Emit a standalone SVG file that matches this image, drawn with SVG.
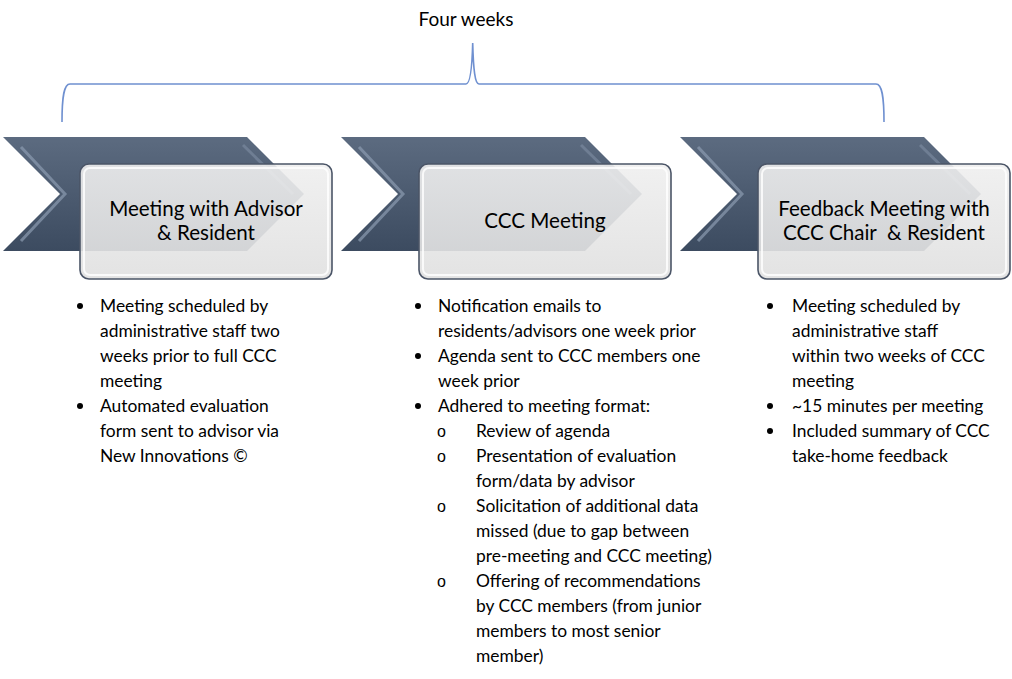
<svg xmlns="http://www.w3.org/2000/svg" width="1012" height="679" viewBox="0 0 1012 679">
<defs>
<linearGradient id="chev" x1="0" y1="0" x2="0" y2="1">
<stop offset="0" stop-color="#5c6b80"/>
<stop offset="1" stop-color="#3c4b60"/>
</linearGradient>
<linearGradient id="boxg" x1="0" y1="0" x2="0" y2="1">
<stop offset="0" stop-color="#efefef"/>
<stop offset="1" stop-color="#e0e0e0"/>
</linearGradient>
<g id="chevron">
<polygon points="0,0 244,0 301,57 244,114 0,114 57,57" fill="url(#chev)"/>
<polyline points="18,10 62,57 18,104" fill="none" stroke="#8c9bb0" stroke-width="3" stroke-opacity="0.7"/>
<polyline points="240,8 290,57" fill="none" stroke="#7f8ea3" stroke-width="3" stroke-opacity="0.6"/>
</g>
<g id="box">
<rect x="0" y="0" width="252" height="115" rx="9" fill="url(#boxg)" fill-opacity="0.9" stroke="#4b5567" stroke-width="1.6"/>
<rect x="4" y="4" width="244" height="107" rx="6" fill="none" stroke="#ffffff" stroke-width="2" stroke-opacity="0.8"/>
</g>
</defs>
<style>
.t{font-family:Lato,"Liberation Sans",sans-serif;font-size:17.4px;fill:#000}
.h{font-family:Lato,"Liberation Sans",sans-serif;font-size:20.6px;fill:#000;text-anchor:middle}
.top{font-family:Lato,"Liberation Sans",sans-serif;font-size:19px;fill:#000;text-anchor:middle}
.sub{font-family:"Liberation Sans",sans-serif;font-size:16px;fill:#000}
.brace{fill:none;stroke:#6f90d0;stroke-width:1.6}
</style>
<rect width="1012" height="679" fill="#ffffff"/>

<text class="top" x="466" y="26">Four weeks</text>

<g id="connectors">
<path class="brace" d="M62,122 C62,96 64,84 70,84 L466,84 C470,84 472,70 472.7,43 C473.4,70 475,84 479,84 L876,84 C882,84 884,96 884,122"/>
</g>

<g id="step1">
<use href="#chevron" x="3" y="137"/>
<use href="#box" x="80" y="164"/>
<text class="h" x="206" y="216">Meeting with Advisor</text>
<text class="h" x="206" y="240">&amp; Resident</text>
</g>

<g id="step2">
<use href="#chevron" x="341" y="137"/>
<use href="#box" x="419" y="164"/>
<text class="h" x="545" y="228">CCC Meeting</text>
</g>

<g id="step3">
<use href="#chevron" x="680" y="137"/>
<use href="#box" x="758" y="164"/>
<text class="h" x="884" y="216">Feedback Meeting with</text>
<text class="h" x="884" y="240" xml:space="preserve">CCC Chair  &amp; Resident</text>
</g>

<g id="notes1">
<circle cx="80" cy="306" r="3"/>
<circle cx="80" cy="406" r="3"/>
<text class="t" x="100" y="312">Meeting scheduled by</text>
<text class="t" x="100" y="337">administrative staff two</text>
<text class="t" x="100" y="362">weeks prior to full CCC</text>
<text class="t" x="100" y="387">meeting</text>
<text class="t" x="100" y="412">Automated evaluation</text>
<text class="t" x="100" y="437">form sent to advisor via</text>
<text class="t" x="100" y="462">New Innovations ©</text>
</g>

<g id="notes2">
<circle cx="418" cy="306" r="3"/>
<circle cx="418" cy="356" r="3"/>
<circle cx="418" cy="406" r="3"/>
<text class="t" x="438" y="312">Notification emails to</text>
<text class="t" x="438" y="337">residents/advisors one week prior</text>
<text class="t" x="438" y="362">Agenda sent to CCC members one</text>
<text class="t" x="438" y="387">week prior</text>
<text class="t" x="438" y="412">Adhered to meeting format:</text>
<text class="sub" x="437" y="437">o</text>
<text class="sub" x="437" y="462">o</text>
<text class="sub" x="437" y="512">o</text>
<text class="sub" x="437" y="587">o</text>
<text class="t" x="476" y="437">Review of agenda</text>
<text class="t" x="476" y="462">Presentation of evaluation</text>
<text class="t" x="476" y="487">form/data by advisor</text>
<text class="t" x="476" y="512">Solicitation of additional data</text>
<text class="t" x="476" y="537">missed (due to gap between</text>
<text class="t" x="476" y="562">pre-meeting and CCC meeting)</text>
<text class="t" x="476" y="587">Offering of recommendations</text>
<text class="t" x="476" y="612">by CCC members (from junior</text>
<text class="t" x="476" y="637">members to most senior</text>
<text class="t" x="476" y="662">member)</text>
</g>

<g id="notes3">
<circle cx="770" cy="306" r="3"/>
<circle cx="770" cy="406" r="3"/>
<circle cx="770" cy="431" r="3"/>
<text class="t" x="792" y="312">Meeting scheduled by</text>
<text class="t" x="792" y="337">administrative staff</text>
<text class="t" x="792" y="362">within two weeks of CCC</text>
<text class="t" x="792" y="387">meeting</text>
<text class="t" x="792" y="412">~15 minutes per meeting</text>
<text class="t" x="792" y="437">Included summary of CCC</text>
<text class="t" x="792" y="462">take-home feedback</text>
</g>
</svg>
